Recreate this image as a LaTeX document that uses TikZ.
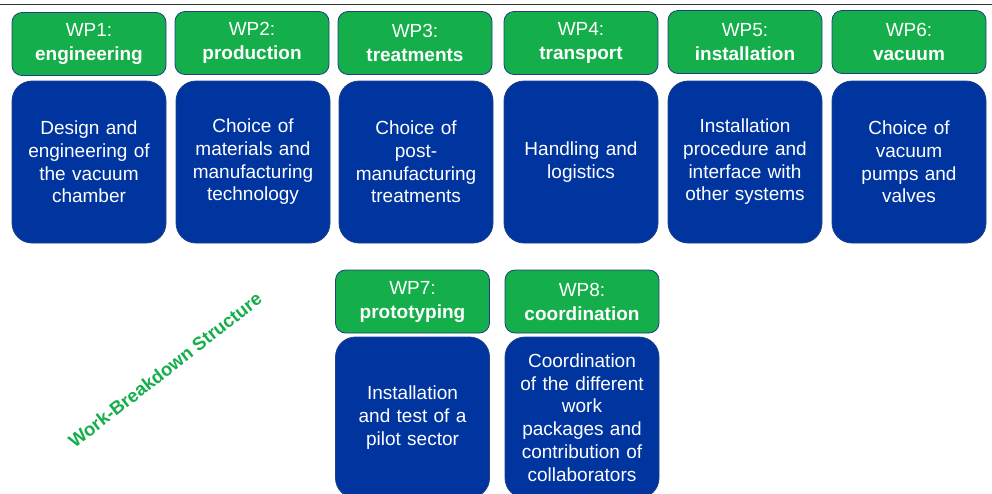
\documentclass[tikz,border=0pt]{standalone}
\usepackage{fontspec}
\setmainfont{Liberation Sans}
\definecolor{wpgreen}{HTML}{14AE4A}
\definecolor{wpblue}{HTML}{0035A0}
\definecolor{wpedge}{HTML}{1F3F85}
\definecolor{topline}{HTML}{333333}
\tikzset{
  wphead/.style={draw=wpedge, line width=0.8pt, fill=wpgreen, rounded corners=10pt,
    minimum width=154pt, minimum height=63pt, inner sep=0pt, text=white,
    align=center, font=\fontsize{19}{24}\selectfont},
  wpbody/.style={draw=wpedge, line width=0.8pt, fill=wpblue, rounded corners=20pt,
    minimum width=154pt, minimum height=162pt, inner sep=0pt, text=white,
    text width=152pt, align=center, font=\fontsize{19}{22.7}\selectfont},
  wbslabel/.style={text=wpgreen, font=\bfseries\fontsize{18.5}{21}\selectfont}
}
\begin{document}
\begin{tikzpicture}[x=1pt,y=-1pt]
\useasboundingbox (0,0) rectangle (992,493);
\coordinate (tlA) at (0,4);
\coordinate (tlB) at (992,4);
\draw[topline, line width=1pt] (tlA) -- (tlB);

\node[wphead] (h1) at (89,44) {WP1:\\\textbf{engineering}};
\node[wphead] (h2) at (252,43) {WP2:\\\textbf{production}};
\node[wphead] (h3) at (415,43) {WP3:\\\textbf{treatments}};
\node[wphead] (h4) at (581,43) {WP4:\\\textbf{transport}};
\node[wphead] (h5) at (745,42) {WP5:\\\textbf{installation}};
\node[wphead] (h6) at (909,42) {WP6:\\\textbf{vacuum}};

\node[wpbody] (b1) at (89,162) {Design and\\engineering of\\the vacuum\\chamber};
\node[wpbody] (b2) at (253,162) {Choice of\\materials and\\manufacturing\\technology};
\node[wpbody] (b3) at (416,162) {Choice of\\post-\\manufacturing\\treatments};
\node[wpbody] (b4) at (581,162) {Handling and\\logistics};
\node[wpbody] (b5) at (745,162) {Installation\\procedure and\\interface with\\other systems};
\node[wpbody] (b6) at (909,162) {Choice of\\vacuum\\pumps and\\valves};

\node[wphead] (h7) at (412.5,301.5) {WP7:\\\textbf{prototyping}};
\node[wphead] (h8) at (582,301.5) {WP8:\\\textbf{coordination}};
\node[wpbody, minimum height=161pt] (b7) at (412.5,417.5) {Installation\\and test of a\\pilot sector};
\node[wpbody, minimum height=161pt] (b8) at (582,417.5) {Coordination\\of the different\\work\\packages and\\contribution of\\collaborators};

\node[wbslabel, rotate=38] (wbs) at (165,370) {Work-Breakdown Structure};
\end{tikzpicture}
\end{document}
